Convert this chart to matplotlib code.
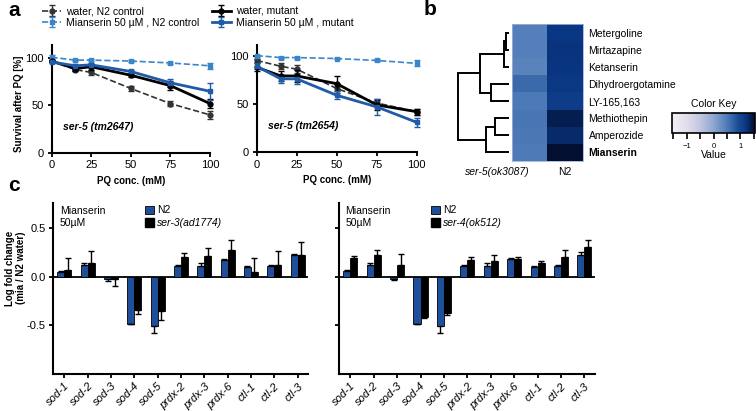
import matplotlib
matplotlib.use("Agg")
import matplotlib.pyplot as plt
from matplotlib.colors import LinearSegmentedColormap
from matplotlib.patches import Patch
from matplotlib.ticker import MultipleLocator
import numpy as np

plt.rcParams['font.family'] = ['Liberation Sans', 'DejaVu Sans']
plt.rcParams['font.size'] = 7.5

# ---- panel a data ----
pq = [0, 15, 25, 50, 75, 100]

# ser-5 (tm2647)
a1_water_n2 = [97, 88, 85, 68, 52, 40]
a1_water_n2_err = [1, 2, 3, 3, 3, 4]
a1_mia_n2 = [101, 98, 98, 97, 95, 92]
a1_mia_n2_err = [2, 1, 1, 1, 1, 3]
a1_water_mut = [97, 89, 91, 82, 71, 52]
a1_water_mut_err = [1, 2, 3, 2, 5, 5]
a1_mia_mut = [96, 92, 93, 86, 74, 65]
a1_mia_mut_err = [1, 2, 2, 2, 4, 9]

# ser-5 (tm2654)
a2_water_n2 = [95, 89, 86, 66, 51, 42]
a2_water_n2_err = [2, 3, 4, 5, 4, 3]
a2_mia_n2 = [100, 98, 98, 97, 95, 92]
a2_mia_n2_err = [1, 1, 1, 1, 1, 3]
a2_water_mut = [88, 79, 79, 71, 49, 42]
a2_water_mut_err = [4, 5, 6, 8, 5, 3]
a2_mia_mut = [89, 76, 76, 59, 47, 31]
a2_mia_mut_err = [3, 4, 5, 4, 8, 5]

# ---- panel b data ----
drugs = ['Metergoline', 'Mirtazapine', 'Ketanserin', 'Dihydroergotamine',
         'LY-165,163', 'Methiothepin', 'Amperozide', 'Mianserin']
heat_cols = ['ser-5(ok3087)', 'N2']
heat_ser5 = [0.45, 0.46, 0.40, 0.65, 0.52, 0.55, 0.53, 0.50]
heat_n2 = [1.19, 1.22, 1.20, 1.18, 1.12, 1.40, 1.30, 1.52]
# dendrogram merges: (child a, child b, height)
dendro_merges = [(0, 1, 3), (8, 2, 5), (3, 4, 18), (9, 10, 28),
                 (5, 6, 14), (12, 7, 23), (11, 13, 50)]

# ---- panel c data ----
genes = ['sod-1', 'sod-2', 'sod-3', 'sod-4', 'sod-5', 'prdx-2', 'prdx-3',
         'prdx-6', 'ctl-1', 'ctl-2', 'ctl-3']
c1_n2 = [0.05, 0.12, -0.02, -0.49, -0.51, 0.11, 0.11, 0.17, 0.10, 0.11, 0.22]
c1_n2_err = [0.01, 0.02, 0.02, 0.0, 0.07, 0.01, 0.03, 0.01, 0.01, 0.01, 0.02]
c1_mut = [0.07, 0.14, -0.02, -0.34, -0.35, 0.20, 0.21, 0.28, 0.05, 0.12, 0.22]
c1_mut_err = [0.12, 0.13, 0.07, 0.04, 0.09, 0.05, 0.09, 0.10, 0.14, 0.15, 0.14]

c2_n2 = [0.06, 0.12, -0.02, -0.49, -0.51, 0.115, 0.115, 0.18, 0.10, 0.115, 0.225]
c2_n2_err = [0.01, 0.02, 0.01, 0.0, 0.07, 0.01, 0.03, 0.01, 0.01, 0.01, 0.03]
c2_mut = [0.19, 0.22, 0.12, -0.41, -0.37, 0.17, 0.16, 0.18, 0.14, 0.20, 0.31]
c2_mut_err = [0.02, 0.06, 0.12, 0.01, 0.02, 0.035, 0.06, 0.02, 0.02, 0.08, 0.07]

BLUE = '#1f5ba6'
LIGHTBLUE = '#3a86c8'
BAR_BLUE = '#1d4f9a'

fig = plt.figure(figsize=(7.56, 4.11), dpi=100)
W, H = 756, 411


def px_axes(x0, y0, x1, y1):
    return fig.add_axes([x0 / W, 1 - y1 / H, (x1 - x0) / W, (y1 - y0) / H])


def style_axes(ax):
    for s in ['top', 'right']:
        ax.spines[s].set_visible(False)
    for s in ['left', 'bottom']:
        ax.spines[s].set_linewidth(1.5)
    ax.tick_params(width=1.3, length=3, direction='out', labelsize=8, pad=2.5)


def survival_panel(ax, wn2, wn2e, mn2, mn2e, wm, wme, mm, mme, label, ytop):
    ax.errorbar(pq, wn2, yerr=wn2e, color='#333333', ls='--', lw=1.2, marker='o',
                ms=3.5, capsize=2, elinewidth=1, clip_on=False, zorder=3,
                label='water, N2 control')
    ax.errorbar(pq, mn2, yerr=mn2e, color=LIGHTBLUE, ls='--', lw=1.2, marker='s',
                ms=3.5, capsize=2, elinewidth=1, clip_on=False, zorder=3,
                label='Mianserin 50 µM , N2 control')
    ax.errorbar(pq, wm, yerr=wme, color='black', ls='-', lw=2, marker='o',
                ms=3.5, capsize=2, elinewidth=1, clip_on=False, zorder=4,
                label='water, mutant')
    ax.errorbar(pq, mm, yerr=mme, color=BLUE, ls='-', lw=2, marker='s',
                ms=3.5, capsize=2, elinewidth=1, clip_on=False, zorder=4,
                label='Mianserin 50 µM , mutant')
    ax.set_xlim(0, 100)
    ax.set_ylim(0, ytop)
    ax.set_xticks([0, 25, 50, 75, 100])
    ax.set_yticks([0, 50, 100])
    style_axes(ax)
    ax.set_xlabel('PQ conc. (mM)', fontsize=7, fontweight='bold', labelpad=4)
    ax.text(7, 27, label, fontsize=7.5, fontweight='bold', style='italic',
            va='center')


# panel a
axa1 = px_axes(51.5, 45, 210, 152.7)
survival_panel(axa1, a1_water_n2, a1_water_n2_err, a1_mia_n2, a1_mia_n2_err,
               a1_water_mut, a1_water_mut_err, a1_mia_mut, a1_mia_mut_err,
               'ser-5 (tm2647)', 114)
axa1.set_ylabel('Survival after PQ [%]', fontsize=7, fontweight='bold')
axa1.yaxis.set_label_coords(-0.175, 0.45)

axa2 = px_axes(256.7, 45, 416.7, 152.3)
survival_panel(axa2, a2_water_n2, a2_water_n2_err, a2_mia_n2, a2_mia_n2_err,
               a2_water_mut, a2_water_mut_err, a2_mia_mut, a2_mia_mut_err,
               'ser-5 (tm2654)', 111)

handles, labels = axa1.get_legend_handles_labels()
fig.legend(handles, labels, ncol=2,
           loc='upper left', bbox_to_anchor=(38 / W, 1 - 2 / H), frameon=False,
           fontsize=7.5, handlelength=1.8, handletextpad=0.5, columnspacing=1.2,
           labelspacing=0.15, borderaxespad=0)

# panel b: dendrogram
axd = px_axes(456, 24, 509, 161)
n = len(drugs)
ypos = {i: i for i in range(n)}
hpos = {i: 0 for i in range(n)}
for k, (a, b, h) in enumerate(dendro_merges):
    ya, yb = ypos[a], ypos[b]
    axd.plot([hpos[a], h, h, hpos[b]], [ya, ya, yb, yb], color='black', lw=1.4,
             solid_joinstyle='miter')
    ypos[n + k] = (ya + yb) / 2
    hpos[n + k] = h
axd.set_xlim(52, 0)
axd.set_ylim(n - 0.5, -0.5)
axd.axis('off')

# panel b: heatmap
vmin, vmax = -1.55, 1.55
key_nodes = [(-1.55, '#f4eff6'), (-1.0, '#e2dcec'), (-0.5, '#c2c6e0'),
             (0.0, '#8ea6d1'), (0.5, '#4f7cb8'), (0.9, '#1c4e97'),
             (1.2, '#0a3783'), (1.4, '#061f52'), (1.55, '#030d2a')]
cmap = LinearSegmentedColormap.from_list(
    'key', [((v - vmin) / (vmax - vmin), c) for v, c in key_nodes])
axh = px_axes(512, 24, 583, 161)
vals = np.column_stack([heat_ser5, heat_n2])
im = axh.imshow(vals, cmap=cmap, vmin=vmin, vmax=vmax, aspect='auto')
axh.set_yticks(range(n))
axh.set_yticklabels(drugs, fontsize=7.5)
axh.yaxis.tick_right()
axh.get_yticklabels()[-1].set_fontweight('bold')
axh.set_xticks([0, 1])
axh.set_xticklabels(heat_cols, fontsize=7.5)
axh.get_xticklabels()[0].set_style('italic')
axh.get_xticklabels()[0].set_horizontalalignment('right')
axh.get_xticklabels()[0].set_x(0.75)
axh.tick_params(length=0, pad=4)
for s in axh.spines.values():
    s.set_color('#9fb3d3')
    s.set_linewidth(0.6)

# colour key
cax = px_axes(672, 113, 755, 133)
cb = fig.colorbar(im, cax=cax, orientation='horizontal', ticks=[-1, 0, 1])
cb.outline.set_linewidth(1.2)
cax.xaxis.set_minor_locator(MultipleLocator(0.5))
cax.tick_params(which='both', direction='out', length=4, width=1.2, labelsize=5.5,
                pad=3)
cax.set_xticklabels(['\u22121', '0', '1'])
cax.set_title('Color Key', fontsize=7.5, pad=4)
cax.set_xlabel('Value', fontsize=7.5, labelpad=0)

# panel c


def bar_panel(ax, n2, n2e, mut, mute, mut_label, show_ylabels):
    x = np.arange(len(genes))
    w = 0.3

    def one_sided(v, e):
        v = np.asarray(v)
        e = np.asarray(e)
        lo = np.where(v < 0, e, 0)
        hi = np.where(v >= 0, e, 0)
        return [lo, hi]

    ax.bar(x - w / 2, n2, w, color=BAR_BLUE, edgecolor='black', lw=0.6,
           yerr=one_sided(n2, n2e), error_kw=dict(lw=1, capsize=2, capthick=1),
           label='N2')
    ax.bar(x + w / 2, mut, w, color='black', edgecolor='black', lw=0.6,
           yerr=one_sided(mut, mute), error_kw=dict(lw=1, capsize=2, capthick=1),
           label=mut_label)
    ax.axhline(0, color='black', lw=1.3, zorder=0)
    ax.set_xlim(-0.48, 10.45)
    ax.set_ylim(-1.0, 0.76)
    ax.set_yticks([-0.5, 0.0, 0.5])
    if show_ylabels:
        ax.set_yticklabels(['-0.5', '0.0', '0.5'])
    else:
        ax.set_yticklabels([])
    ax.set_xticks(x)
    ax.set_xticklabels(genes, rotation=45, ha='right', rotation_mode='anchor',
                       style='italic', fontsize=7)
    style_axes(ax)
    ax.tick_params(axis='x', pad=2)
    ax.text(0.025, 0.985, 'Mianserin\n50µM', transform=ax.transAxes, va='top',
            ha='left', fontsize=7.5, linespacing=1.25)
    leg = ax.legend(handles=[Patch(facecolor=BAR_BLUE, edgecolor='black', lw=0.6),
                             Patch(facecolor='black', edgecolor='black')],
                    labels=['N2', mut_label], loc='upper left',
                    bbox_to_anchor=(0.345, 1.01), frameon=False, fontsize=7.5,
                    handlelength=0.8, handleheight=0.9, handletextpad=0.3,
                    labelspacing=0.25, borderaxespad=0)
    leg.get_texts()[1].set_style('italic')


axc1 = px_axes(53.3, 203, 308, 374)
bar_panel(axc1, c1_n2, c1_n2_err, c1_mut, c1_mut_err, 'ser-3(ad1774)', True)
axc1.set_ylabel('Log fold change\n(mia / N2 water)', fontsize=7,
                fontweight='bold', linespacing=1.1)
axc1.yaxis.set_label_coords(-0.107, 0.62)

axc2 = px_axes(339, 203, 595, 374)
bar_panel(axc2, c2_n2, c2_n2_err, c2_mut, c2_mut_err, 'ser-4(ok512)', False)

# panel letters
fig.text(8 / W, 1 - 1 / H, 'a', fontsize=15, fontweight='bold', va='top')
fig.text(424 / W, 1 - 0 / H, 'b', fontsize=15, fontweight='bold', va='top')
fig.text(8 / W, 1 - 176 / H, 'c', fontsize=15, fontweight='bold', va='top')

fig.savefig('out.png', dpi=100)
